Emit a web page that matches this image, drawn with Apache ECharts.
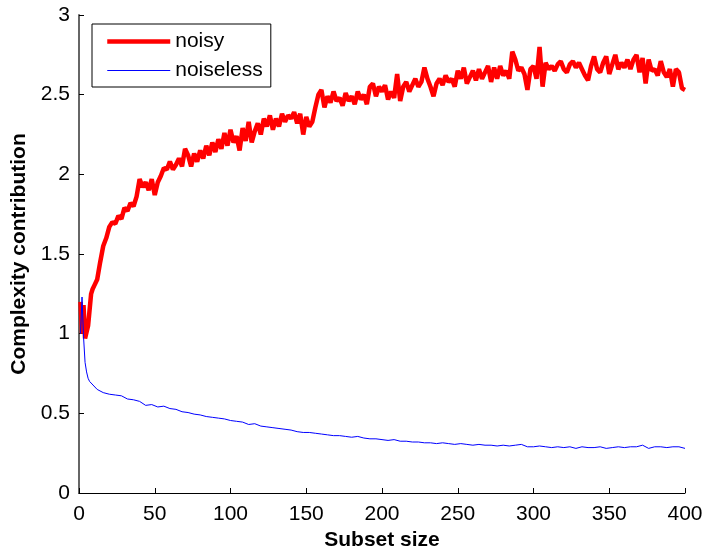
<!DOCTYPE html>
<html>
<head>
<meta charset="utf-8">
<script src="https://cdn.jsdelivr.net/npm/echarts@6/dist/echarts.min.js"></script>
<style>html,body{margin:0;padding:0;background:#fff}#c{width:704px;height:548px}</style>
</head>
<body>
<div id="c"></div>
<script>
var xTicks = [0, 50, 100, 150, 200, 250, 300, 350, 400];
var yTicks = [0, 0.5, 1, 1.5, 2, 2.5, 3];

var noisyX = [1,2,3,4,5,6,7,8,9,10,12,14,16,18,20,22,24,26,28,30,32,34,36,38,40,42,44,46,48,50,52,54,56,58,60,62,64,66,68,70,72,74,76,78,80,82,84,86,88,90,92,94,96,98,100,102,104,106,108,110,112,114,116,118,120,122,124,126,128,130,132,134,136,138,140,142,144,146,148,150,152,154,156,158,160,162,164,166,168,170,172,174,176,178,180,182,184,186,188,190,192,194,196,198,200,202,204,206,208,210,212,214,216,218,220,222,224,226,228,230,232,234,236,238,240,242,244,246,248,250,252,254,256,258,260,262,264,266,268,270,272,274,276,278,280,282,284,286,288,290,292,294,296,298,300,302,304,306,308,310,312,314,316,318,320,322,324,326,328,330,332,334,336,338,340,342,344,346,348,350,352,354,356,358,360,362,364,366,368,370,372,374,376,378,380,382,384,386,388,390,392,394,396,398,400];
var noisyY = [1.20,1.00,1.18,0.97,0.98,1.05,1.15,1.25,1.28,1.30,1.34,1.45,1.55,1.60,1.67,1.70,1.69,1.74,1.72,1.79,1.77,1.82,1.80,1.86,1.97,1.92,1.95,1.90,1.97,1.87,1.95,1.99,2.04,2.03,2.08,2.03,2.06,2.10,2.05,2.16,2.12,2.05,2.13,2.08,2.15,2.10,2.18,2.12,2.20,2.14,2.22,2.16,2.26,2.18,2.28,2.20,2.24,2.15,2.29,2.21,2.33,2.20,2.27,2.32,2.25,2.35,2.30,2.37,2.28,2.35,2.30,2.38,2.33,2.37,2.35,2.39,2.32,2.38,2.25,2.36,2.30,2.33,2.42,2.50,2.53,2.42,2.49,2.45,2.52,2.46,2.48,2.43,2.51,2.46,2.49,2.44,2.52,2.47,2.50,2.44,2.55,2.57,2.49,2.55,2.52,2.56,2.47,2.52,2.48,2.63,2.46,2.55,2.58,2.52,2.56,2.60,2.55,2.58,2.67,2.60,2.55,2.49,2.57,2.60,2.56,2.62,2.58,2.60,2.55,2.65,2.60,2.67,2.57,2.61,2.65,2.59,2.66,2.60,2.64,2.68,2.58,2.67,2.60,2.68,2.62,2.65,2.60,2.77,2.72,2.65,2.67,2.63,2.53,2.66,2.68,2.60,2.80,2.55,2.70,2.66,2.68,2.65,2.69,2.71,2.66,2.64,2.69,2.71,2.67,2.70,2.66,2.62,2.59,2.68,2.74,2.66,2.64,2.70,2.74,2.63,2.69,2.75,2.66,2.70,2.67,2.72,2.66,2.72,2.75,2.64,2.73,2.57,2.72,2.65,2.66,2.62,2.71,2.64,2.61,2.66,2.55,2.66,2.64,2.54,2.53];

var cleanX = [1,2,3,4,5,6,7,8,12,16,20,24,28,32,36,40,44,48,52,56,60,64,68,72,76,80,84,88,92,96,100,104,108,112,116,120,124,128,132,136,140,144,148,152,156,160,164,168,172,176,180,184,188,192,196,200,204,208,212,216,220,224,228,232,236,240,244,248,252,256,260,264,268,272,276,280,284,288,292,296,300,304,308,312,316,320,324,328,332,336,340,344,348,352,356,360,364,368,372,376,380,384,388,392,396,400];
var cleanY = [1.00,1.23,0.98,0.82,0.76,0.72,0.70,0.69,0.65,0.63,0.62,0.615,0.61,0.59,0.585,0.575,0.55,0.555,0.54,0.545,0.53,0.525,0.51,0.505,0.495,0.49,0.48,0.475,0.47,0.465,0.455,0.45,0.445,0.43,0.435,0.42,0.415,0.41,0.405,0.40,0.395,0.385,0.38,0.38,0.375,0.37,0.365,0.36,0.36,0.355,0.35,0.355,0.345,0.34,0.34,0.335,0.33,0.335,0.325,0.325,0.32,0.32,0.315,0.315,0.31,0.315,0.31,0.305,0.31,0.305,0.30,0.305,0.30,0.30,0.295,0.30,0.295,0.30,0.305,0.29,0.29,0.295,0.29,0.285,0.29,0.285,0.29,0.28,0.29,0.285,0.285,0.29,0.28,0.285,0.29,0.285,0.29,0.29,0.30,0.28,0.29,0.29,0.285,0.29,0.29,0.28];

function pairs(xs, ys) { return xs.map(function (x, i) { return [x, ys[i]]; }); }

var font = 'Arial, "Liberation Sans", Helvetica, sans-serif';
var chart = echarts.init(document.getElementById('c'), null, {renderer: 'canvas'});
chart.setOption({
  animation: false,
  backgroundColor: '#ffffff',
  grid: {left: 79, right: 19, top: 15, bottom: 55, containLabel: false, outerBoundsMode: 'none'},
  legend: {
    left: 92, top: 24, orient: 'vertical',
    padding: [7, 8, 6, 13],
    itemWidth: 63, itemHeight: 14, itemGap: 8,
    backgroundColor: '#fff', borderColor: '#000', borderWidth: 1,
    lineStyle: {width: 'inherit'},
    itemStyle: {opacity: 0},
    textStyle: {fontFamily: font, fontSize: 21, color: '#000', padding: [0, 0, 0, 0]},
    data: ['noisy', 'noiseless']
  },
  xAxis: {
    type: 'value', min: 0, max: 400, interval: 50,
    name: 'Subset size', nameLocation: 'middle', nameGap: 34,
    nameTextStyle: {fontFamily: font, fontSize: 21, fontWeight: 'bold', color: '#000'},
    axisLine: {lineStyle: {color: '#000', width: 1}},
    axisTick: {inside: true, length: 5, lineStyle: {color: '#000'}},
    axisLabel: {fontFamily: font, fontSize: 21, color: '#000', margin: 11,
      formatter: function (v) { return xTicks.indexOf(v) >= 0 ? String(v) : ''; }},
    splitLine: {show: false}
  },
  yAxis: {
    type: 'value', min: 0, max: 3, interval: 0.5,
    name: 'Complexity contribution', nameLocation: 'middle', nameGap: 46,
    nameTextStyle: {fontFamily: font, fontSize: 21, fontWeight: 'bold', color: '#000'},
    axisLine: {show: true, lineStyle: {color: '#666', width: 2}},
    axisTick: {show: true, inside: true, length: 5, lineStyle: {color: '#000'}},
    axisLabel: {fontFamily: font, fontSize: 21, color: '#000', margin: 9,
      formatter: function (v) { return yTicks.indexOf(v) >= 0 ? String(v) : ''; }},
    splitLine: {show: false}
  },
  series: [
    {name: 'noisy', type: 'line', data: pairs(noisyX, noisyY), showSymbol: false, symbol: 'none',
      lineStyle: {color: '#ff0000', width: 4.5}, itemStyle: {color: '#ff0000'}, z: 2},
    {name: 'noiseless', type: 'line', data: pairs(cleanX, cleanY), showSymbol: false, symbol: 'none',
      lineStyle: {color: '#0000ff', width: 1}, itemStyle: {color: '#0000ff'}, z: 3}
  ]
});
</script>
</body>
</html>
